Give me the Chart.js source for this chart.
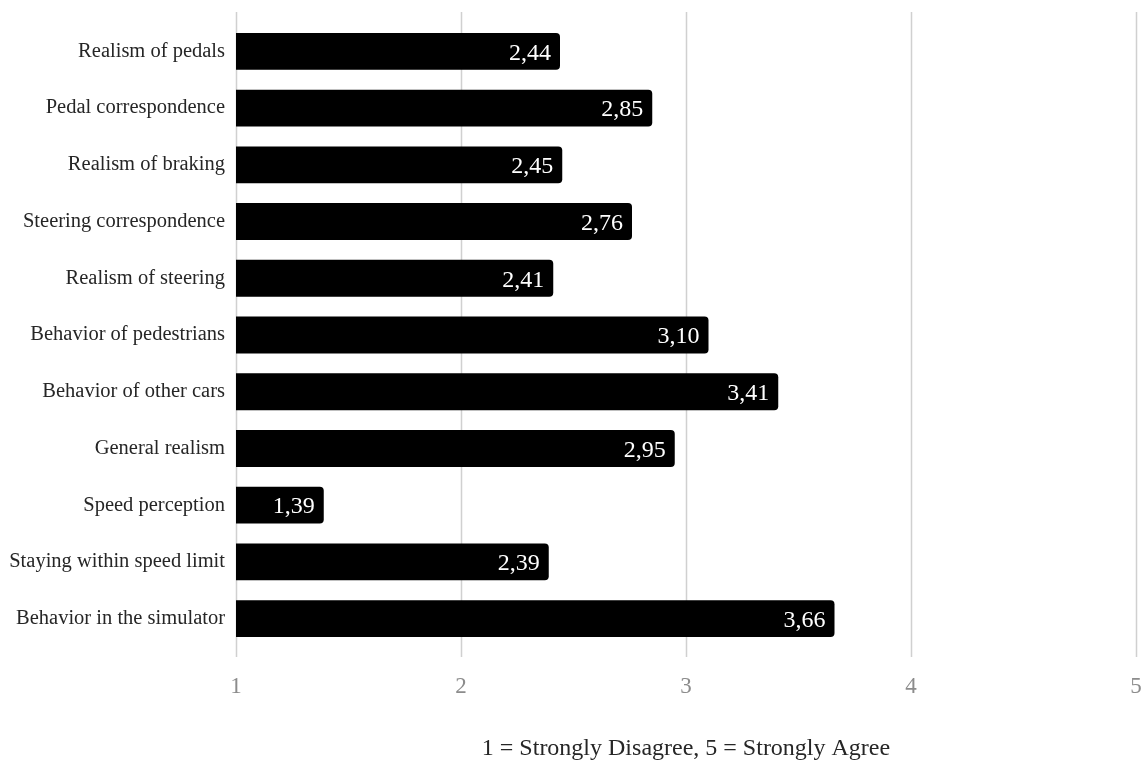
<!DOCTYPE html>
<html>
<head>
<meta charset="utf-8">
<script src="https://cdn.jsdelivr.net/npm/chart.js@4/dist/chart.umd.min.js"></script>
<style>
  html, body { margin: 0; padding: 0; background: #ffffff; }
  #wrap { width: 1145px; height: 763px; }
</style>
</head>
<body>
<div id="wrap"><canvas id="c"></canvas></div>
<script>
// Survey items (top to bottom) and their mean ratings
const categories = [
  'Realism of pedals',
  'Pedal correspondence',
  'Realism of braking',
  'Steering correspondence',
  'Realism of steering',
  'Behavior of pedestrians',
  'Behavior of other cars',
  'General realism',
  'Speed perception',
  'Staying within speed limit',
  'Behavior in the simulator'
];
const meanScores = [2.44, 2.85, 2.45, 2.76, 2.41, 3.10, 3.41, 2.95, 1.39, 2.39, 3.66];
const scaleTicks = [1, 2, 3, 4, 5];
const axisTitle = '1 = Strongly Disagree, 5 = Strongly Agree';

const SERIF = '"Liberation Serif", "Times New Roman", serif';

// Vertical grid lines that run a little past the top and bottom of the plot
const gridPlugin = {
  id: 'extendedGrid',
  beforeDatasetsDraw(chart) {
    const { ctx, chartArea, scales } = chart;
    ctx.save();
    ctx.strokeStyle = '#d0d0d0';
    ctx.lineWidth = 1.5;
    scaleTicks.forEach(v => {
      const x = Math.round(scales.x.getPixelForValue(v)) + 0.5;
      ctx.beginPath();
      ctx.moveTo(x, chartArea.top - 11);
      ctx.lineTo(x, chartArea.bottom + 10);
      ctx.stroke();
    });
    ctx.restore();
  }
};

// White value labels at the inner end of each bar, with decimal commas
const valueLabels = {
  id: 'valueLabels',
  afterDatasetsDraw(chart) {
    const { ctx } = chart;
    const meta = chart.getDatasetMeta(0);
    ctx.save();
    ctx.font = '24px ' + SERIF;
    ctx.fillStyle = '#ffffff';
    ctx.textAlign = 'right';
    ctx.textBaseline = 'middle';
    meta.data.forEach((bar, i) => {
      const txt = meanScores[i].toFixed(2).replace('.', ',');
      ctx.fillText(txt, bar.x - 9, bar.y + 2);
    });
    ctx.restore();
  }
};

new Chart(document.getElementById('c'), {
  type: 'bar',
  data: {
    labels: categories,
    datasets: [{
      data: meanScores,
      backgroundColor: '#000000',
      borderRadius: 4,
      borderSkipped: 'start',
      categoryPercentage: 0.65,
      barPercentage: 1.0
    }]
  },
  options: {
    indexAxis: 'y',
    responsive: true,
    maintainAspectRatio: false,
    animation: false,
    layout: { padding: { top: 23, right: 9, left: 0, bottom: 0 } },
    plugins: {
      legend: { display: false },
      tooltip: { enabled: false }
    },
    scales: {
      x: {
        type: 'linear',
        min: 1,
        max: 5,
        afterBuildTicks(scale) { scale.ticks = scaleTicks.map(v => ({ value: v })); },
        grid: { display: false, drawTicks: false },
        border: { display: false },
        ticks: {
          color: '#8c8c8c',
          font: { family: SERIF, size: 23 },
          padding: 26,
          maxRotation: 0
        },
        title: {
          display: true,
          text: axisTitle,
          color: '#262626',
          font: { family: SERIF, size: 24 },
          padding: { top: 0, bottom: 0 }
        },
        afterFit(scale) {
          scale.height = 116;
          scale.paddingLeft = 0;
          scale.paddingRight = 0;
        }
      },
      y: {
        grid: { display: false },
        border: { display: false },
        ticks: {
          color: '#262626',
          font: { family: SERIF, size: 20.5 },
          padding: 3
        },
        afterFit(scale) { scale.width = 236; }
      }
    }
  },
  plugins: [gridPlugin, valueLabels]
});
</script>
</body>
</html>
